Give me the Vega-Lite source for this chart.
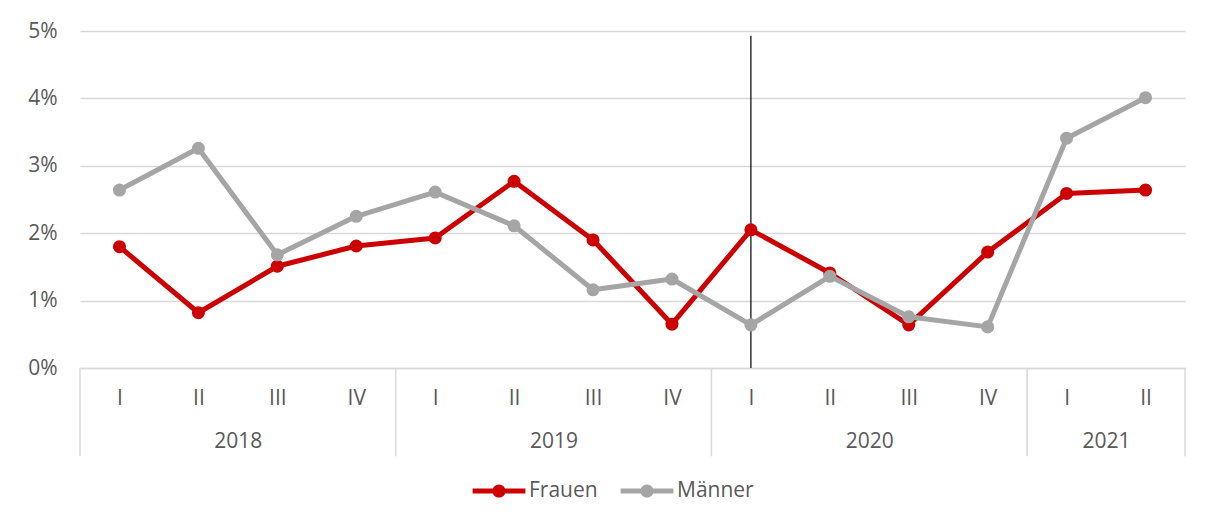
{
  "$schema": "https://vega.github.io/schema/vega-lite/v6.json",
  "width": 1105,
  "height": 337,
  "autosize": "none",
  "padding": {"left": 80, "top": 31, "right": 26, "bottom": 156},
  "background": "white",
  "config": {
    "font": "Open Sans",
    "view": {"stroke": null},
    "axis": {"labelFont": "Open Sans", "labelFontSize": 21, "labelColor": "#595959"}
  },
  "datasets": {
    "series": [
      {"pos": 0.5, "series": "Frauen", "value": 1.80},
      {"pos": 1.5, "series": "Frauen", "value": 0.82},
      {"pos": 2.5, "series": "Frauen", "value": 1.51},
      {"pos": 3.5, "series": "Frauen", "value": 1.81},
      {"pos": 4.5, "series": "Frauen", "value": 1.93},
      {"pos": 5.5, "series": "Frauen", "value": 2.77},
      {"pos": 6.5, "series": "Frauen", "value": 1.90},
      {"pos": 7.5, "series": "Frauen", "value": 0.65},
      {"pos": 8.5, "series": "Frauen", "value": 2.05},
      {"pos": 9.5, "series": "Frauen", "value": 1.41},
      {"pos": 10.5, "series": "Frauen", "value": 0.64},
      {"pos": 11.5, "series": "Frauen", "value": 1.72},
      {"pos": 12.5, "series": "Frauen", "value": 2.59},
      {"pos": 13.5, "series": "Frauen", "value": 2.64},
      {"pos": 0.5, "series": "Männer", "value": 2.64},
      {"pos": 1.5, "series": "Männer", "value": 3.26},
      {"pos": 2.5, "series": "Männer", "value": 1.68},
      {"pos": 3.5, "series": "Männer", "value": 2.25},
      {"pos": 4.5, "series": "Männer", "value": 2.61},
      {"pos": 5.5, "series": "Männer", "value": 2.11},
      {"pos": 6.5, "series": "Männer", "value": 1.16},
      {"pos": 7.5, "series": "Männer", "value": 1.32},
      {"pos": 8.5, "series": "Männer", "value": 0.64},
      {"pos": 9.5, "series": "Männer", "value": 1.36},
      {"pos": 10.5, "series": "Männer", "value": 0.76},
      {"pos": 11.5, "series": "Männer", "value": 0.61},
      {"pos": 12.5, "series": "Männer", "value": 3.41},
      {"pos": 13.5, "series": "Männer", "value": 4.01}
    ],
    "separators": [
      {"pos": 0, "y0": 0, "y1": -1.31},
      {"pos": 4, "y0": 0, "y1": -1.31},
      {"pos": 8, "y0": 0, "y1": -1.31},
      {"pos": 12, "y0": 0, "y1": -1.31},
      {"pos": 14, "y0": 0, "y1": -1.31}
    ],
    "marker": [
      {"pos": 8.5, "y0": 0, "y1": 4.93}
    ]
  },
  "resolve": {"scale": {"x": "independent"}, "axis": {"x": "independent"}},
  "layer": [
    {
      "data": {"name": "separators"},
      "mark": {"type": "rule", "color": "#D9D9D9", "strokeWidth": 1.5, "clip": false},
      "encoding": {
        "x": {
          "field": "pos", "type": "quantitative",
          "scale": {"domain": [0, 14], "nice": false, "zero": false},
          "axis": {
            "orient": "bottom", "title": null, "values": [2, 6, 10, 13],
            "labelExpr": "datum.value == 2 ? '2018' : datum.value == 6 ? '2019' : datum.value == 10 ? '2020' : '2021'",
            "ticks": false, "domain": false, "grid": false, "labelPadding": 62
          }
        },
        "y": {
          "field": "y0", "type": "quantitative",
          "scale": {"domain": [0, 5], "nice": false},
          "axis": {
            "title": null, "values": [0, 1, 2, 3, 4, 5],
            "labelExpr": "datum.value + '%'",
            "ticks": false, "domain": false, "grid": true, "gridColor": "#D9D9D9", "gridWidth": 1.5,
            "labelPadding": 23
          }
        },
        "y2": {"field": "y1"}
      }
    },
    {
      "data": {"name": "marker"},
      "mark": {"type": "rule", "color": "#000000", "strokeWidth": 1.2},
      "encoding": {
        "x": {"field": "pos", "type": "quantitative", "scale": {"domain": [0, 14], "nice": false, "zero": false}, "axis": null},
        "y": {"field": "y0", "type": "quantitative"},
        "y2": {"field": "y1"}
      }
    },
    {
      "data": {"name": "series"},
      "mark": {"type": "line", "strokeWidth": 5, "strokeJoin": "round"},
      "encoding": {
        "x": {
          "field": "pos", "type": "quantitative",
          "scale": {"domain": [0, 14], "nice": false, "zero": false},
          "axis": {
            "orient": "bottom", "title": null,
            "values": [0.5, 1.5, 2.5, 3.5, 4.5, 5.5, 6.5, 7.5, 8.5, 9.5, 10.5, 11.5, 12.5, 13.5],
            "labelExpr": "['I', 'II', 'III', 'IV'][floor(datum.value) % 4]",
            "ticks": false, "domain": true, "domainColor": "#D9D9D9", "domainWidth": 1.5, "grid": false, "labelPadding": 19
          }
        },
        "y": {"field": "value", "type": "quantitative"},
        "color": {
          "field": "series", "type": "nominal",
          "scale": {"domain": ["Frauen", "Männer"], "range": ["#CC0000", "#A5A5A5"]},
          "legend": {
            "title": null, "orient": "none", "direction": "horizontal",
            "legendX": 407, "legendY": 448,
            "symbolType": "M-2.2,-0.2H2.2V0.2H-2.2Z M0.55,0A0.55,0.55 0 1,1 -0.55,0A0.55,0.55 0 1,1 0.55,0Z",
            "symbolSize": 576, "symbolStrokeWidth": 0,
            "labelFont": "Open Sans", "labelFontSize": 21, "labelColor": "#595959",
            "labelOffset": 18, "columnPadding": 22
          }
        }
      }
    },
    {
      "data": {"name": "series"},
      "mark": {"type": "point", "filled": true, "opacity": 1, "size": 170},
      "encoding": {
        "x": {"field": "pos", "type": "quantitative", "scale": {"domain": [0, 14], "nice": false, "zero": false}, "axis": null},
        "y": {"field": "value", "type": "quantitative"},
        "color": {"field": "series", "type": "nominal"}
      }
    }
  ]
}
